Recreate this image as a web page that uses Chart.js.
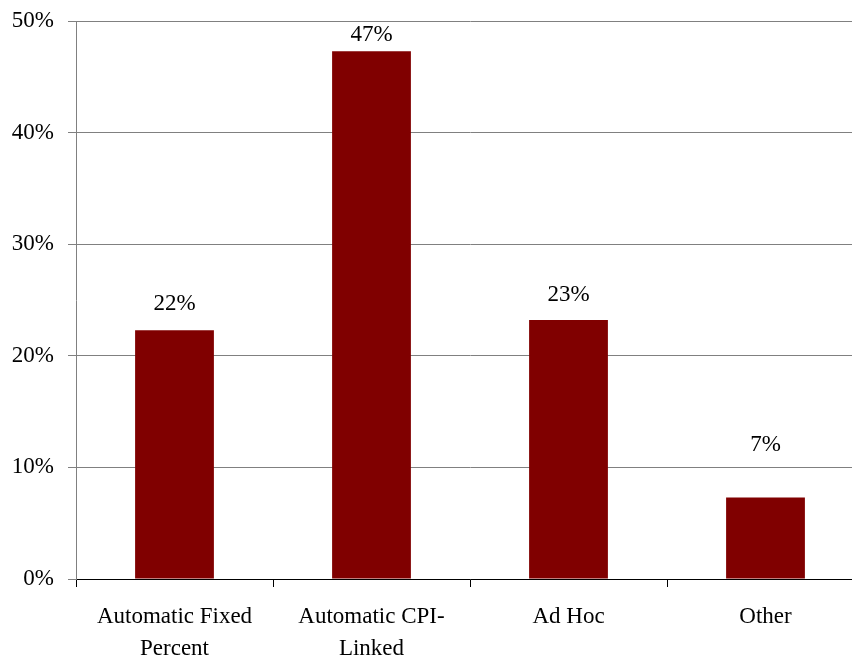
<!DOCTYPE html>
<html>
<head>
<meta charset="utf-8">
<script src="https://cdn.jsdelivr.net/npm/chart.js@4/dist/chart.umd.min.js"></script>
<style>
html,body{margin:0;padding:0;background:#fff;overflow:hidden;}
#wrap{width:864px;height:658px;position:relative;}
</style>
</head>
<body>
<div id="wrap"><canvas id="c" width="864" height="658"></canvas></div>
<script>
const categories = [['Automatic Fixed','Percent'], ['Automatic CPI-','Linked'], 'Ad Hoc', 'Other'];
const values = [22.3, 47.3, 23.2, 7.3];
const valueLabels = ['22%', '47%', '23%', '7%'];
const yTicks = [0, 10, 20, 30, 40, 50];

const labelGaps = [26, 16, 25, 53];
const FONT = "'Liberation Serif', 'Times New Roman', serif";

const labelPlugin = {
  id: 'valueLabels',
  afterDatasetsDraw(chart) {
    const ctx = chart.ctx;
    const meta = chart.getDatasetMeta(0);
    ctx.save();
    ctx.font = '23px ' + FONT;
    ctx.fillStyle = '#000';
    ctx.textAlign = 'center';
    ctx.textBaseline = 'middle';
    meta.data.forEach((bar, i) => {
      ctx.fillText(valueLabels[i], bar.x, bar.y - labelGaps[i]);
    });
    ctx.restore();
  }
};

new Chart(document.getElementById('c'), {
  type: 'bar',
  data: {
    labels: categories,
    datasets: [{
      data: values,
      backgroundColor: '#800000',
      borderWidth: 0,
      categoryPercentage: 1.0,
      barPercentage: 0.4
    }]
  },
  options: {
    responsive: false,
    animation: false,
    layout: { padding: { top: 21, right: 0, left: 0, bottom: 0 } },
    plugins: { legend: { display: false }, tooltip: { enabled: false } },
    scales: {
      x: {
        offset: true,
        grid: {
          offset: true,
          drawOnChartArea: false,
          drawTicks: true,
          tickLength: 8,
          color: '#000'
        },
        border: { color: '#000', width: 1 },
        ticks: {
          color: '#000',
          font: { family: FONT, size: 23, lineHeight: 1.39 },
          padding: 14,
          maxRotation: 0,
          autoSkip: false
        },
        afterFit(scale) { scale.height = 79; scale.paddingLeft = 0; scale.paddingRight = 0; }
      },
      y: {
        min: 0,
        max: 50,
        afterBuildTicks(scale) { scale.ticks = yTicks.map(v => ({ value: v })); },
        grid: {
          color: '#808080',
          lineWidth: 1,
          tickLength: 8,
          drawTicks: true
        },
        border: { color: '#808080', width: 1 },
        ticks: {
          color: '#000',
          font: { family: FONT, size: 23 },
          padding: 14,
          callback: v => v + '%'
        },
        afterFit(scale) { scale.width = 76; scale.paddingTop = 0; scale.paddingBottom = 0; }
      }
    }
  },
  plugins: [labelPlugin]
});
</script>
</body>
</html>
